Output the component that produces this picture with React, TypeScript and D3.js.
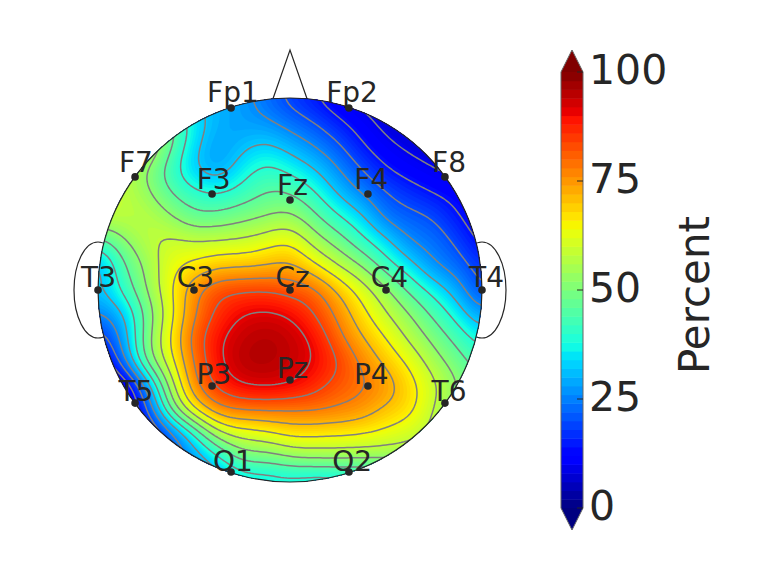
import React from 'react';
import * as d3 from 'd3';

// scalp percentages, 17 x 17 cells over the head's bounding box
// (cells outside of the head are only there so the edge stays smooth)
const percentGrid = [
  [40, 38, 36, 34, 32, 30, 28, 23, 18, 14, 10, 8, 7, 7, 7, 7, 7],
  [60, 58, 55, 48, 36, 30, 28, 27, 23.5, 20, 15, 11, 8, 7, 7, 7, 7],
  [60, 62, 60, 47, 34, 28, 31, 33.5, 30, 26, 21, 14.5, 10.5, 8.5, 7.5, 7, 7],
  [62, 58, 52, 42, 33, 29, 36, 41, 37.5, 33, 26.5, 20, 14.5, 11.5, 9.5, 8, 8],
  [62, 58, 54, 46, 41, 39, 42, 46, 46, 40, 32, 26, 20.5, 17, 14, 12, 11],
  [58, 57.5, 57.5, 53.5, 47.5, 48, 50.5, 52.5, 54.5, 47.5, 40, 34, 24.5, 22, 20, 14, 11],
  [42, 50.5, 57, 60, 59, 59.5, 60, 62.5, 65, 56, 49.5, 41, 34.5, 26, 23.5, 19, 12],
  [28, 44, 53, 63, 66.5, 70, 70.5, 71.5, 73, 66.5, 58.5, 52, 42, 35, 26.5, 23, 17],
  [31, 40, 52, 64, 76, 83, 84, 84.5, 82, 80, 70.5, 62, 53.5, 44, 36.5, 29, 19],
  [25, 31, 47, 62, 77, 86, 91, 92, 90.5, 84.5, 76.5, 67, 59, 52, 44, 36, 27],
  [16, 27, 49, 65, 81, 90, 94, 95.5, 94, 90, 80, 72, 65, 57, 50, 43, 36],
  [8, 22, 47, 62, 78.5, 90, 95, 95.5, 94, 91, 85, 77, 70, 63.5, 55, 48.5, 42],
  [5, 5, 26, 54, 76, 86, 91, 92, 91, 87, 82, 79, 75, 67.5, 60, 52, 46],
  [5, 5, 18, 46, 65, 76, 78, 78.5, 78, 78.5, 77, 75, 70, 67, 58, 50, 45],
  [5, 5, 10, 22, 38, 56, 61, 63, 67, 66.5, 66, 65, 63, 60, 56, 50, 45],
  [5, 5, 10, 20, 28, 37, 48, 48, 51.5, 53, 53, 53, 53, 53, 53, 50, 45],
  [5, 5, 10, 20, 24, 28, 33, 34, 35, 33, 34, 34, 34, 34, 34, 34, 34],
];

const electrodeNames = ['Fp1', 'Fp2', 'F7', 'F3', 'Fz', 'F4', 'F8', 'T3', 'C3', 'Cz', 'C4', 'T4', 'T5', 'P3', 'Pz', 'P4', 'T6', 'O1', 'O2'];
const electrodeX = [-0.307, 0.307, -0.807, -0.406, 0, 0.406, 0.807, -1, -0.5, 0, 0.5, 1, -0.807, -0.406, 0, 0.406, 0.807, -0.307, 0.307];
const electrodeY = [0.948, 0.948, 0.589, 0.5, 0.469, 0.5, 0.589, 0, 0, 0, 0, 0, -0.589, -0.5, -0.469, -0.5, -0.589, -0.948, -0.948];

const contourLevels = [9.5, 14, 20, 26, 32.5, 39, 45.5, 52, 58.5, 65, 71.5, 78, 84.5, 91];
const fillLevels = d3.range(0, 100, 1);
const barLevels = d3.range(0, 100, 2);
const colorbarTicks = [0, 25, 50, 75, 100];

const headX = d3.scaleLinear().domain([-1, 1]).range([98, 482]);
const headY = d3.scaleLinear().domain([-1, 1]).range([482, 98]);
// the labels sit a little off their dots, more so on the right and at the top
const labelX = d3.scaleLinear().domain([-1, 1]).range([98.5, 486.5]);
const labelY = d3.scaleLinear().domain([-1, 1]).range([481, 92]);
const barY = d3.scaleLinear().domain([0, 100]).range([508, 72]);

const jetR = d3.scaleLinear().domain([0, 0.35, 0.66, 0.89, 1]).range([0, 0, 1, 1, 0.5]);
const jetG = d3.scaleLinear().domain([0, 0.125, 0.375, 0.64, 0.91, 1]).range([0, 0, 1, 1, 0, 0]);
const jetB = d3.scaleLinear().domain([0, 0.11, 0.34, 0.65, 1]).range([0.5, 1, 1, 0, 0]);
const jet = (p: number) => {
  const t = p / 100;
  return d3.rgb(jetR(t) * 255, jetG(t) * 255, jetB(t) * 255).formatRgb();
};

const UPSAMPLE = 8;

// catmull-rom so the drawn bands don't show the cells of the coarse grid
const cubic = (a: number, b: number, c: number, d: number, t: number) =>
  0.5 * (2 * b + (c - a) * t + (2 * a - 5 * b + 4 * c - d) * t * t + (3 * b - a - 3 * c + d) * t * t * t);

function smoothField(rows: number[][], k: number) {
  const n = rows.length;
  const size = (n - 1) * k + 1;
  const at = (r: number, c: number) =>
    rows[Math.max(0, Math.min(n - 1, r))][Math.max(0, Math.min(n - 1, c))];
  const out = new Float64Array(size * size);
  for (let j = 0; j < size; j++) {
    const r = Math.floor(j / k);
    const v = j / k - r;
    for (let i = 0; i < size; i++) {
      const c = Math.floor(i / k);
      const u = i / k - c;
      const col = [-1, 0, 1, 2].map((dr) =>
        cubic(at(r + dr, c - 1), at(r + dr, c), at(r + dr, c + 1), at(r + dr, c + 2), u)
      );
      out[j * size + i] = cubic(col[0], col[1], col[2], col[3], v);
    }
  }
  d3.blur2({ data: out as any, width: size, height: size }, 3);
  return { values: out, size };
}

const App = () => {
  const { values, size } = React.useMemo(() => smoothField(percentGrid, UPSAMPLE), []);
  const contours = d3.contours().size([size, size]).smooth(true);
  const gridX = d3.scaleLinear().domain([0.5, size - 0.5]).range(headX.range());
  const gridY = d3.scaleLinear().domain([0.5, size - 0.5]).range([98, 482]);
  const path = d3.geoPath(
    d3.geoTransform({
      point(x, y) {
        this.stream.point(gridX(x), gridY(y));
      },
    })
  );

  const cx = headX(0);
  const cy = headY(0);
  const radius = headX(1) - headX(0);
  const ink = '#262626';

  const nose = d3.line()([
    [headX(-0.09), headY(0.992)],
    [headX(0), headY(1.25)],
    [headX(0.09), headY(0.992)],
  ]);

  return (
    <svg width={764} height={580} style={{ position: 'absolute', left: 0, top: 0 }} fontFamily="DejaVu Sans">
      <defs>
        <clipPath id="head">
          <circle cx={cx} cy={cy} r={radius} />
        </clipPath>
      </defs>

      <ellipse cx={headX(-1)} cy={cy} rx={24} ry={48} fill="none" stroke={ink} strokeWidth={1.2} />
      <ellipse cx={headX(1)} cy={cy} rx={24} ry={48} fill="none" stroke={ink} strokeWidth={1.2} />
      <path d={nose || ''} fill="none" stroke={ink} strokeWidth={1.2} />
      <circle cx={cx} cy={cy} r={radius} fill="#fff" />

      <g clipPath="url(#head)">
        {fillLevels.map((level) => (
          <path key={level} d={path(contours.contour(values as any, level)) || ''} fill={jet(level + 0.5)} />
        ))}
        {contourLevels.map((level) => (
          <path
            key={level}
            d={path(contours.contour(values as any, level)) || ''}
            fill="none"
            stroke="#808080"
            strokeWidth={1.5}
          />
        ))}
      </g>
      <circle cx={cx} cy={cy} r={radius} fill="none" stroke={ink} strokeWidth={1.2} />

      {electrodeNames.map((name, i) => (
        <g key={name}>
          <circle cx={headX(electrodeX[i])} cy={headY(electrodeY[i])} r={3.8} fill={ink} />
          <text x={labelX(electrodeX[i])} y={labelY(electrodeY[i])} textAnchor="middle" fontSize={28} fill={ink}>
            {name}
          </text>
        </g>
      ))}

      {barLevels.map((level) => (
        <rect
          key={level}
          x={561}
          y={barY(level + 2)}
          width={22}
          height={barY(level) - barY(level + 2) + 0.5}
          fill={jet(level + 1)}
        />
      ))}
      <path d={`M561,${barY(100)}L572,50L583,${barY(100)}Z`} fill={jet(100)} />
      <path d={`M561,${barY(0)}L572,530L583,${barY(0)}Z`} fill={jet(0)} />
      <path
        d={`M561,${barY(0)}L561,${barY(100)}L572,50L583,${barY(100)}L583,${barY(0)}L572,530Z`}
        fill="none"
        stroke="#666"
        strokeWidth={1}
      />
      {colorbarTicks.map((tick) => (
        <g key={tick}>
          <line x1={577} x2={583} y1={barY(tick)} y2={barY(tick)} stroke={ink} strokeWidth={1} />
          <text x={589} y={barY(tick) - 2.5} dy="0.36em" fontSize={41} fill={ink}>
            {tick}
          </text>
        </g>
      ))}
      <text transform="translate(709,295) rotate(-90)" textAnchor="middle" fontSize={42} fill={ink}>
        Percent
      </text>
    </svg>
  );
};

export default App;
